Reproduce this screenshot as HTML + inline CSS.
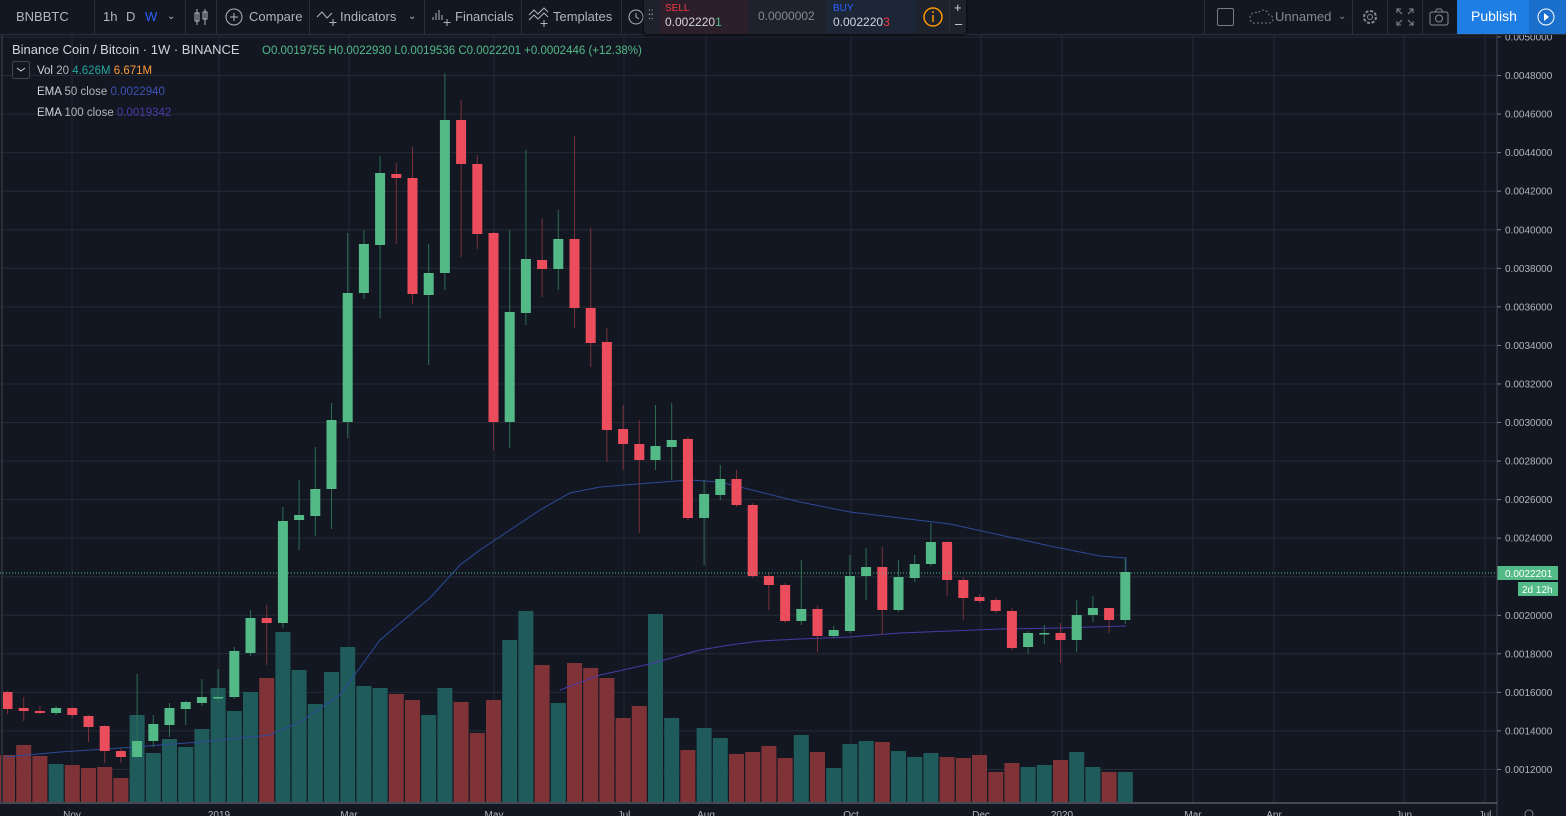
<!DOCTYPE html>
<html><head><meta charset="utf-8">
<style>
html,body{margin:0;padding:0;background:#131722;width:1566px;height:816px;overflow:hidden;font-family:"Liberation Sans",sans-serif;}
#tb{position:absolute;left:0;top:0;width:1566px;height:34px;border-bottom:1px solid #2a2e39;background:#131722;}
.t{position:absolute;color:#b2b5be;font-size:13px;top:9px;white-space:nowrap;}
.sep{position:absolute;top:0;width:1px;height:34px;background:#2a2e39;}
#svg{position:absolute;left:0;top:35px;}
</style></head><body>
<svg id="svg" width="1566" height="781" viewBox="0 35 1566 781" xmlns="http://www.w3.org/2000/svg"></svg>
<div id="tb">
<div class="t" style="left:16px">BNBBTC</div>
<div class="sep" style="left:94px"></div>
<div class="t" style="left:103px">1h</div><div class="t" style="left:126px">D</div><div class="t" style="left:145px;color:#2962ff">W</div>
<div class="t" style="left:167px;font-size:10px;top:11px">&#8964;</div>
<div class="sep" style="left:185px"></div>
<svg style="position:absolute;left:193px;top:8px" width="16" height="18"><path d="M4 1v16M12 1v16" stroke="#b2b5be"/><rect x="2" y="5" width="4" height="8" fill="none" stroke="#b2b5be"/><rect x="10" y="4" width="4" height="7" fill="none" stroke="#b2b5be"/></svg>
<div class="sep" style="left:216px"></div>
<svg style="position:absolute;left:224px;top:7px" width="20" height="20"><circle cx="10" cy="10" r="8" fill="none" stroke="#b2b5be"/><path d="M10 6v8M6 10h8" stroke="#b2b5be"/></svg>
<div class="t" style="left:249px">Compare</div>
<div class="sep" style="left:309px"></div>
<svg style="position:absolute;left:316px;top:7px" width="22" height="20"><path d="M1 10l5-5 5 6 5-5" fill="none" stroke="#b2b5be"/><path d="M17 12v7M13.5 15.5h7" stroke="#b2b5be"/></svg>
<div class="t" style="left:340px">Indicators</div>
<div class="t" style="left:408px;font-size:10px;top:11px">&#8964;</div>
<div class="sep" style="left:424px"></div>
<svg style="position:absolute;left:431px;top:6px" width="22" height="22"><path d="M2 14v-3M5 14v-7M8 14v-10M11 14v-5" stroke="#b2b5be"/><path d="M16 13v7M12.5 16.5h7" stroke="#b2b5be"/></svg>
<div class="t" style="left:455px">Financials</div>
<div class="sep" style="left:521px"></div>
<svg style="position:absolute;left:528px;top:6px" width="22" height="22"><path d="M1 9l5-5 4 4 6-6 4 4M1 14l5-5 4 4 6-6 4 4" fill="none" stroke="#b2b5be"/><path d="M16 14v7M12.5 17.5h7" stroke="#b2b5be"/></svg>
<div class="t" style="left:553px">Templates</div>
<div class="sep" style="left:621px"></div>
<svg style="position:absolute;left:627px;top:7px" width="20" height="20"><circle cx="9" cy="10" r="7" fill="none" stroke="#b2b5be"/><path d="M9 6v4l3 2" fill="none" stroke="#b2b5be"/></svg>
<div style="position:absolute;left:644px;top:0;width:322px;height:34px;background:#1e222d;border-radius:0 0 3px 3px;box-shadow:0 1px 3px #000"></div>
<div style="position:absolute;left:648px;top:11px;color:#b2b5be;font-size:10px;line-height:4px">::<br>::</div>
<div style="position:absolute;left:660px;top:0;width:88px;height:34px;background:#2b1f29"></div>
<div style="position:absolute;left:665px;top:3px;color:#f23645;font-size:10px">SELL</div>
<div style="position:absolute;left:665px;top:15px;color:#d1d4dc;font-size:12px">0.002220<span style="color:#53b987">1</span></div>
<div style="position:absolute;left:758px;top:9px;color:#868993;font-size:12px">0.0000002</div>
<div style="position:absolute;left:826px;top:0;width:90px;height:34px;background:#1c2637"></div>
<div style="position:absolute;left:833px;top:3px;color:#2962ff;font-size:10px">BUY</div>
<div style="position:absolute;left:833px;top:15px;color:#d1d4dc;font-size:12px">0.002220<span style="color:#f23645">3</span></div>
<svg style="position:absolute;left:922px;top:6px" width="22" height="22"><circle cx="11" cy="11" r="9" fill="none" stroke="#ff9800" stroke-width="1.5"/><path d="M11 9v7" stroke="#ff9800" stroke-width="1.5"/><circle cx="11" cy="6" r="1" fill="#ff9800"/></svg>
<div class="sep" style="left:949px"></div>
<div style="position:absolute;left:954px;top:0;color:#d1d4dc;font-size:13px">+</div>
<div style="position:absolute;left:955px;top:16px;color:#d1d4dc;font-size:13px">&#8211;</div>
<div class="sep" style="left:1204px"></div>
<div style="position:absolute;left:1217px;top:8px;width:15px;height:16px;border:1px solid #787b86;border-radius:2px"></div>
<svg style="position:absolute;left:1248px;top:8px" width="26" height="18"><path d="M5 15h16a4 4 0 0 0 0-8 6 6 0 0 0-11-2 5 5 0 0 0-5 10z" fill="none" stroke="#787b86" stroke-dasharray="2 2"/></svg>
<div class="t" style="left:1275px;color:#868993">Unnamed</div>
<div class="t" style="left:1338px;font-size:10px;top:11px;color:#868993">&#8964;</div>
<div class="sep" style="left:1352px"></div>
<svg style="position:absolute;left:1360px;top:7px" width="20" height="20"><circle cx="10" cy="10" r="6" fill="none" stroke="#868993" stroke-width="2" stroke-dasharray="3 1.7"/><circle cx="10" cy="10" r="2.5" fill="none" stroke="#868993"/></svg>
<div class="sep" style="left:1387px"></div>
<svg style="position:absolute;left:1396px;top:8px" width="18" height="18"><path d="M1 5V1h4M13 1h4v4M17 13v4h-4M5 17H1v-4M1 1l5 5M17 1l-5 5M17 17l-5-5M1 17l5-5" fill="none" stroke="#868993"/></svg>
<div class="sep" style="left:1422px"></div>
<svg style="position:absolute;left:1429px;top:8px" width="20" height="18"><rect x="1" y="4" width="18" height="13" rx="2" fill="none" stroke="#868993"/><circle cx="10" cy="10.5" r="3.5" fill="none" stroke="#868993"/><path d="M6 4l2-3h4l2 3" fill="none" stroke="#868993"/></svg>
<div style="position:absolute;left:1457px;top:0;width:72px;height:34px;background:#1e7ee4"></div>
<div style="position:absolute;left:1471px;top:8px;color:#fff;font-size:14px">Publish</div>
<div style="position:absolute;left:1529px;top:0;width:37px;height:34px;background:#1b6fcc"></div>
<svg style="position:absolute;left:1535px;top:6px" width="22" height="22"><circle cx="11" cy="11" r="8" fill="none" stroke="#fff"/><path d="M9 7l5 4-5 4z" fill="#fff"/></svg>
</div>
<script>
var s=document.getElementById('svg');var h='';
function Y(p){return 37+(0.005-p)*192750;}
for(var k=0;k<=19;k++){var p=0.005-k*0.0002;var y=Y(p);
 h+='<line x1="0" x2="1497" y1="'+y+'" y2="'+y+'" stroke="#262a36"/>';
 h+='<line x1="1497" x2="1501" y1="'+y+'" y2="'+y+'" stroke="#787b86"/>';
 h+='<text x="1505" y="'+(y+3.5)+'" fill="#b2b5be" font-size="10" font-family="Liberation Sans">'+p.toFixed(7)+'</text>';}
var vx=[[72,'Nov'],[219,'2019'],[349,'Mar'],[494,'May'],[624,'Jul'],[706,'Aug'],[851,'Oct'],[981,'Dec'],[1062,'2020'],[1193,'Mar'],[1274,'Apr'],[1404,'Jun'],[1485,'Jul']];
vx.forEach(function(a){h+='<line x1="'+a[0]+'" x2="'+a[0]+'" y1="35" y2="803" stroke="#262a36"/>';
 h+='<text x="'+a[0]+'" y="818" text-anchor="middle" fill="#b2b5be" font-size="10" font-family="Liberation Sans">'+a[1]+'</text>';});
var C=[[692,709,691,714],[708,711,697,721],[711,713,706,714],[713,708,706,715],[708,715,707,718],[716,727,715,742],[726,751,725,763],[751,757,748,763],
[757,741,674,758],[741,724,715,747],[725,708,703,737],[709,702,701,725],[703,697,679,706],[698,697,669,703],[697,651,647,699],[653,618,610,656],[618,623,605,665],
[623,521,507,628],[520,515,480,550],[516,489,447,536],[489,420,403,529],[422,293,233,438],[293,244,230,299],[245,173,156,318],[174,178,163,244],[178,294,147,304],
[295,273,244,365],[273,120,73,290],[120,164,100,257],[164,234,155,249],[233,422,232,450],[422,312,230,448],[313,259,150,325],[260,269,218,297],[269,239,210,290],
[239,308,136,328],[308,343,228,367],[342,430,328,462],[429,444,405,470],[444,460,420,533],[460,446,405,470],[447,440,403,480],[439,518,437,520],[518,494,480,565],
[495,479,465,500],[479,505,470,507],[505,576,503,578],[576,585,572,610],[585,621,583,623],[621,609,560,625],[609,636,606,652],[636,630,626,638],[631,576,555,633],
[576,567,548,600],[567,610,547,635],[610,577,560,612],[578,564,555,582],[564,542,523,566],[542,580,541,596],[580,598,577,620],[597,601,594,603],[600,611,598,613],
[611,648,608,650],[647,633,631,654],[634,633,625,644],[633,640,623,663],[640,615,600,652],[615,608,596,622],[608,620,608,633],[620,572,558,624]];
var V=[755,745,756,764,765,768,767,778,715,753,739,747,729,688,711,692,678,632,670,704,672,647,686,688,694,700,715,688,702,733,700,640,611,665,703,663,668,678,718,706,614,718,750,728,738,754,752,746,758,735,752,768,744,741,742,751,757,753,757,758,755,772,763,767,765,760,752,767,772,772];
for(var i=0;i<V.length;i++){var x=7.5+16.2*i;var up=C[i][1]<C[i][0];
 h+='<rect x="'+(x-7.5)+'" y="'+V[i]+'" width="15" height="'+(802-V[i])+'" fill="'+(up?'#1f5b5b':'#7f3337')+'"/>';}
h+='<polyline fill="none" stroke="#2e4a9a" stroke-width="1" points="5,757 60,752 120,748 200,742 270,735 300,722 340,695 380,640 430,598 460,565 480,550 510,530 540,510 570,493 600,487 650,483 690,480 720,482 760,492 800,502 850,512 900,518 950,524 1000,535 1050,546 1100,556 1126,558 1126,572"/>';
h+='<polyline fill="none" stroke="#4a3aa6" stroke-width="1" points="560,690 600,675 650,664 700,650 730,645 760,641 800,639 850,637 900,633 950,631 1000,629 1060,628 1126,626"/>';
for(var i=0;i<C.length;i++){var c=C[i],x=7.5+16.2*i,up=c[1]<c[0];var col=up?'#53b987':'#eb4d5c';var wc=up?'#2f6d52':'#7a3038';
 var t=Math.min(c[0],c[1]),b=Math.max(c[0],c[1]);
 h+='<line x1="'+x+'" x2="'+x+'" y1="'+c[2]+'" y2="'+c[3]+'" stroke="'+wc+'"/>';
 h+='<rect x="'+(x-5)+'" y="'+t+'" width="10" height="'+Math.max(b-t,1.5)+'" fill="'+col+'"/>';}
h+='<line x1="0" x2="1497" y1="573" y2="573" stroke="#53b987" stroke-dasharray="1 2"/>';
h+='<rect x="1497" y="566" width="61" height="14" fill="#53b987"/><text x="1505" y="577" fill="#fff" font-size="10" font-family="Liberation Sans">0.0022201</text>';
h+='<rect x="1518" y="582" width="40" height="14" fill="#53b987"/><text x="1522" y="593" fill="#fff" font-size="10" font-family="Liberation Sans">2d 12h</text>';
h+='<line x1="1497" x2="1497" y1="35" y2="816" stroke="#434651"/><line x1="0" x2="1497" y1="803" y2="803" stroke="#787b86"/>';
h+='<line x1="2" x2="2" y1="35" y2="803" stroke="#2a2e39" stroke-width="2"/>';
h+='<circle cx="1529" cy="814" r="4" fill="none" stroke="#787b86"/>';
var F=' font-family="Liberation Sans"';
h+='<text x="12" y="54" fill="#d1d4dc" font-size="13"'+F+'>Binance Coin / Bitcoin · 1W · BINANCE</text>';
h+='<text x="262" y="54" fill="#53b987" font-size="11.5"'+F+'>O0.0019755  H0.0022930  L0.0019536  C0.0022201  +0.0002446 (+12.38%)</text>';
h+='<rect x="12.5" y="61.5" width="17" height="17" rx="2" fill="#131722" stroke="#434651"/><path d="M17 68l4 3 4-3" fill="none" stroke="#d1d4dc"/>';
h+='<text x="37" y="74" fill="#d1d4dc" font-size="11.5"'+F+'>Vol <tspan fill="#b2b5be">20</tspan> <tspan fill="#26a69a">4.626M</tspan> <tspan fill="#ff9a3c">6.671M</tspan></text>';
h+='<text x="37" y="95" fill="#d1d4dc" font-size="11.5"'+F+'>EMA <tspan fill="#b2b5be">50 close</tspan> <tspan fill="#3d52b3">0.0022940</tspan></text>';
h+='<text x="37" y="116" fill="#d1d4dc" font-size="11.5"'+F+'>EMA <tspan fill="#b2b5be">100 close</tspan> <tspan fill="#4a3aa6">0.0019342</tspan></text>';
s.innerHTML=h;
</script>
</body></html>
